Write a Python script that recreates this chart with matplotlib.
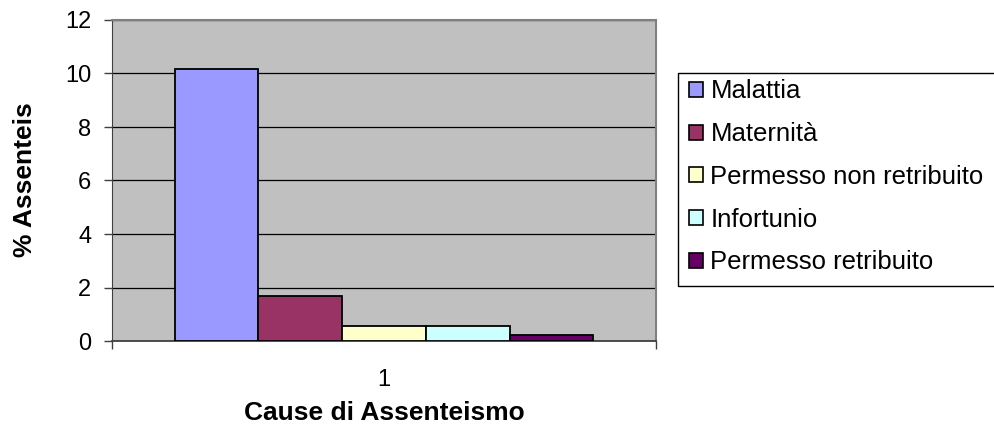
import matplotlib
matplotlib.use("Agg")
import matplotlib.pyplot as plt
from matplotlib.patches import Patch, Rectangle
import numpy as np

# Absence causes and their share of absences (%)
causes = ["Malattia", "Maternità", "Permesso non retribuito", "Infortunio", "Permesso retribuito"]
values = [10.15, 1.68, 0.55, 0.55, 0.23]
colors = ["#9999FF", "#993366", "#FFFFCC", "#CCFFFF", "#660066"]
category_labels = ["1"]
y_ticks = [0, 2, 4, 6, 8, 10, 12]

plt.rcParams["font.family"] = ["Liberation Sans", "DejaVu Sans"]
FS = 17
TITLE_FS = 19
LEG_FS = 18.5

W, H = 995, 436
fig = plt.figure(figsize=(W / 100, H / 100), dpi=100)
ax = fig.add_axes([112 / W, 1 - 341 / H, 544 / W, 321 / H])
ax.set_facecolor("#C0C0C0")

n = len(causes)
bar_w = 0.154
offsets = (np.arange(n) - (n - 1) / 2) * bar_w
for off, v, c, lab in zip(offsets, values, colors, causes):
    ax.bar(1 + off, v, width=bar_w, color=c, edgecolor="black", linewidth=1.3,
           label=lab, zorder=3)

ax.set_xlim(0.5, 1.5)
ax.set_ylim(0, 12)
ax.set_yticks(y_ticks)
ax.set_yticklabels([str(t) for t in y_ticks], fontsize=FS)
ax.yaxis.grid(True, color="black", linewidth=0.9, zorder=1)
ax.set_axisbelow(True)
ax.tick_params(axis="y", direction="out", length=5.8, width=1, color="#404040", pad=9)

ax.set_xticks([1])
ax.set_xticklabels(category_labels, fontsize=FS)
ax.set_xticks([0.5, 1.5], minor=True)
ax.tick_params(axis="x", which="major", length=0, pad=20)
ax.tick_params(axis="x", which="minor", direction="out", length=5.8, width=1, color="#404040")

for side in ["top", "right"]:
    ax.spines[side].set_color("#808080")
    ax.spines[side].set_linewidth(1.5)
ax.spines["left"].set_color("#404040")
ax.spines["bottom"].set_color("#404040")
ax.spines["bottom"].set_linewidth(1.3)

# Axis titles placed in figure pixels
fig.text(25 / W, 1 - 180 / H, "% Assenteis", rotation=90, ha="center", va="center",
         fontsize=TITLE_FS, fontweight="bold")
fig.text(384 / W, 1 - 413 / H, "Cause di Assenteismo", ha="center", va="center",
         fontsize=TITLE_FS, fontweight="bold")

# Legend box runs past the right edge of the figure
fig.add_artist(Rectangle((678 / W, 1 - 286 / H), 340 / W, 213 / H,
                         transform=fig.transFigure, facecolor="white",
                         edgecolor="black", linewidth=1.0, zorder=0))
handles = [Patch(facecolor=c, edgecolor="black", linewidth=1.2) for c in colors]
leg = fig.legend(handles, causes, loc="upper left",
                 bbox_to_anchor=(683 / W, 1 - 73 / H),
                 fontsize=LEG_FS, frameon=False,
                 handlelength=0.52, handleheight=0.52, handletextpad=0.3,
                 labelspacing=0.73, borderpad=0.25, borderaxespad=0)

fig.savefig("out.png", dpi=100)
